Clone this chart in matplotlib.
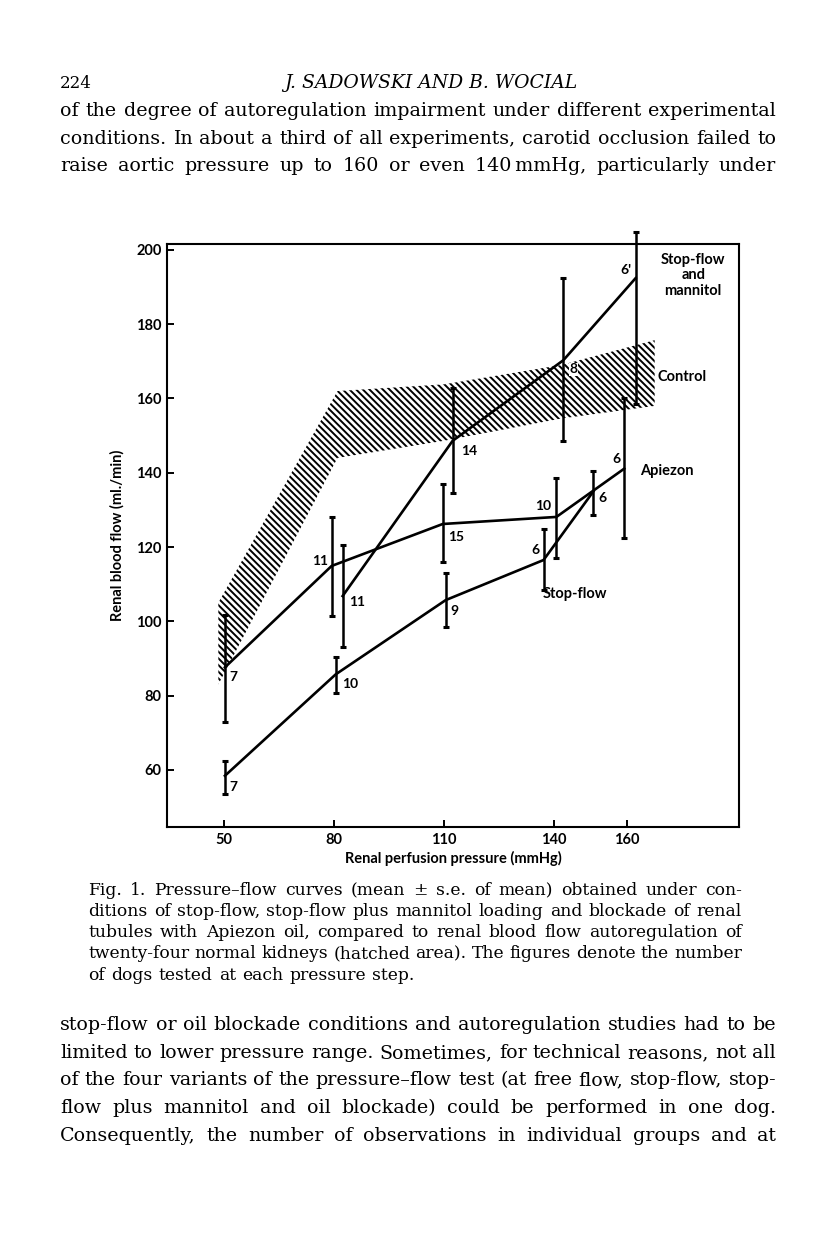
import numpy as np
import matplotlib
matplotlib.use("Agg")
import matplotlib.pyplot as plt

W, H = 816, 1234

# x positions (mmHg), means, lower/upper limits (mean -/+ s.e.) and n labels
stop_x = [50.3, 80.5, 110.5, 137.2, 150.8]
stop_y = [58.4, 85.7, 105.7, 116.5, 135.0]
stop_lo = [53.5, 80.6, 98.4, 108.4, 128.6]
stop_hi = [62.4, 90.5, 113.0, 124.9, 140.5]
stop_n = ["7", "10", "9", "6", "6"]

apiezon_x = [50.3, 79.4, 109.7, 140.7, 159.2]
apiezon_y = [87.6, 114.9, 126.2, 128.1, 141.1]
apiezon_lo = [73.0, 101.4, 116.0, 117.0, 122.4]
apiezon_hi = [101.6, 128.1, 137.0, 138.6, 160.0]
apiezon_n = ["7", "11", "15", "10", "6"]

mannitol_x = [82.4, 112.4, 142.6, 162.3]
mannitol_y = [106.8, 148.6, 170.3, 192.4]
mannitol_lo = [93.0, 134.6, 148.6, 158.6]
mannitol_hi = [120.5, 162.7, 192.4, 204.9]
mannitol_n = ["11", "14", "8", "6'"]

control_x = [48.5, 81.0, 110.0, 142.0, 167.5]
control_lo = [83.0, 144.0, 148.6, 154.6, 158.0]
control_hi = [105.0, 162.0, 163.8, 169.0, 175.7]

xticks = [50, 80, 110, 140, 160]
yticks = [60, 80, 100, 120, 140, 160, 180, 200]

SANS = ["Lato", "DejaVu Sans"]
SERIF = ["DejaVu Serif"]

plt.rcParams["hatch.linewidth"] = 1.4

fig = plt.figure(figsize=(W / 100, H / 100), dpi=100)
fig.patch.set_facecolor("white")
ax = fig.add_axes([167 / W, 1 - 827 / H, (739 - 167) / W, (827 - 244) / H])
ax.set_xlim(34.5, 190.5)
ax.set_ylim(44.6, 201.6)

ax.fill_between(control_x, control_lo, control_hi, facecolor="none",
                edgecolor="black", hatch="\\" * 5, linewidth=0)


def series(xs, ys, lo, hi, clip=True):
    ys = np.array(ys)
    err = [ys - np.array(lo), np.array(hi) - ys]
    eb = ax.errorbar(xs, ys, yerr=err, fmt="-", color="black", lw=1.9,
                     elinewidth=1.8, capsize=2.2, capthick=2.2)
    if not clip:
        for art in eb.lines[1] + eb.lines[2]:
            art.set_clip_on(False)
        eb.lines[0].set_clip_on(False)


series(stop_x, stop_y, stop_lo, stop_hi)
series(apiezon_x, apiezon_y, apiezon_lo, apiezon_hi)
series(mannitol_x, mannitol_y, mannitol_lo, mannitol_hi, clip=False)


def counts(xs, ys, labels, offsets, boxed=False):
    for x, y, s, (dx, dy, ha) in zip(xs, ys, labels, offsets):
        bbox = dict(facecolor="white", edgecolor="none", pad=0.5) if boxed else None
        ax.annotate(s, (x, y), xytext=(dx, -dy), textcoords="offset pixels",
                    ha=ha, va="center", fontsize=10, family=SANS,
                    fontweight="bold", bbox=bbox)


counts(stop_x, stop_y, stop_n,
       [(4, 11, "left"), (6, 10, "left"), (5, 11, "left"), (-4, -10, "right"), (5, 7, "left")])
counts(apiezon_x, apiezon_y, apiezon_n,
       [(4, 10, "left"), (-4, -5, "right"), (5, 13, "left"), (-5, -11, "right"), (-4, -10, "right")])
counts(mannitol_x, mannitol_y, mannitol_n,
       [(6, 6, "left"), (8, 10, "left"), (6, 9, "left"), (-4, -8, "right")], boxed=True)

lab = dict(fontsize=10.5, family=SANS, fontweight="bold")
ax.text(178, 193.2, "Stop-flow\nand\nmannitol", ha="center", va="center",
        linespacing=1.15, **lab)
ax.text(168.2, 165.7, "Control", ha="left", va="center", **lab)
ax.text(163.5, 140.5, "Apiezon", ha="left", va="center", **lab)
ax.text(136.9, 107.3, "Stop-flow", ha="left", va="center", **lab)

ax.set_xticks(xticks)
ax.set_yticks(yticks)
ax.tick_params(direction="in", length=5, width=1.4, labelsize=10.5, pad=4)
for t in ax.get_xticklabels() + ax.get_yticklabels():
    t.set_family(SANS)
    t.set_fontweight("bold")
for sp in ax.spines.values():
    sp.set_linewidth(1.5)
ax.set_xlabel("Renal perfusion pressure (mmHg)", fontsize=10.5, family=SANS,
              fontweight="bold", labelpad=3)
ax.set_ylabel("Renal blood flow (ml./min)", fontsize=10.5, family=SANS,
              fontweight="bold", labelpad=8)

# ---- page text -------------------------------------------------------
renderer = fig.canvas.get_renderer()


def word_widths(words, size, style="normal"):
    out = []
    for w in words:
        t = fig.text(0, 0, w, fontsize=size, family=SERIF, style=style)
        out.append(t.get_window_extent(renderer).width)
        t.remove()
    return out


def justify(lines, x0, x1, baselines, size, last_ragged=False):
    sp = word_widths(["a b"], size)[0] - 2 * word_widths(["a"], size)[0]
    for i, (line, yb) in enumerate(zip(lines, baselines)):
        words = line.split(" ")
        ws = word_widths(words, size)
        if last_ragged and i == len(lines) - 1:
            gap = sp
        else:
            gap = (x1 - x0 - sum(ws)) / max(len(words) - 1, 1)
        x = x0
        for w, wd in zip(words, ws):
            fig.text(x / W, 1 - yb / H, w, fontsize=size, family=SERIF,
                     va="baseline", ha="left")
            x += wd + gap


def fit_size(lines, width, start):
    size = start
    for _ in range(3):
        widest = max(sum(word_widths(l.split(" "), size)) +
                     (len(l.split(" ")) - 1) * 0.25 * size * 100 / 72
                     for l in lines)
        size *= (0.985 * width) / widest
    return size


fig.text(60 / W, 1 - 88 / H, "224", fontsize=12, family=SERIF, va="baseline")
fig.text(431 / W, 1 - 88 / H, "J. SADOWSKI AND B. WOCIAL", fontsize=13.5,
         family=SERIF, style="italic", va="baseline", ha="center")

para1 = [
    "of the degree of autoregulation impairment under different experimental",
    "conditions. In about a third of all experiments, carotid occlusion failed to",
    "raise aortic pressure up to 160 or even 140\u2009mmHg, particularly under",
]
para2 = [
    "stop-flow or oil blockade conditions and autoregulation studies had to be",
    "limited to lower pressure range. Sometimes, for technical reasons, not all",
    "of the four variants of the pressure\u2013flow test (at free flow, stop-flow, stop-",
    "flow plus mannitol and oil blockade) could be performed in one dog.",
    "Consequently, the number of observations in individual groups and at",
]
caption = [
    "Fig. 1. Pressure\u2013flow curves (mean \u00b1 s.e. of mean) obtained under con-",
    "ditions of stop-flow, stop-flow plus mannitol loading and blockade of renal",
    "tubules with Apiezon oil, compared to renal blood flow autoregulation of",
    "twenty-four normal kidneys (hatched area). The figures denote the number",
    "of dogs tested at each pressure step.",
]

body_size = fit_size(para1 + para2, 776 - 60, 12)
justify(para1, 60, 776, [116, 144, 171], body_size)
justify(para2, 60, 776, [1030, 1058, 1085, 1113, 1141], body_size)
cap_size = fit_size(caption[:4], 742 - 88, 10)
justify(caption, 88, 742, [895, 916, 937, 958, 980], cap_size, last_ragged=True)

fig.savefig("out.png", dpi=100, facecolor="white")
